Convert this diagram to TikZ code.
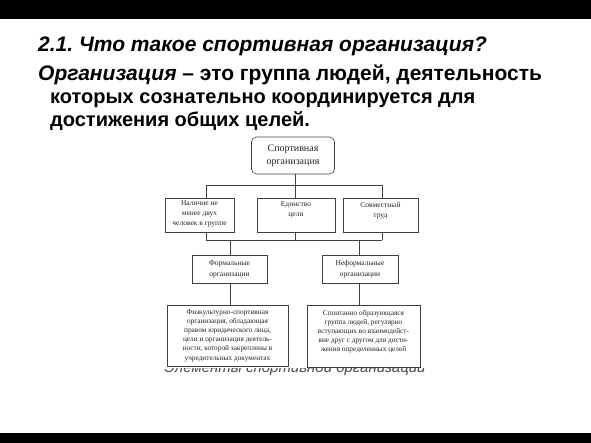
\documentclass[tikz,border=0pt]{standalone}
\usepackage{fontspec}
\setmainfont{Liberation Sans}
\newfontfamily\scanfont{Liberation Serif}
\frenchspacing
\begin{document}
\begin{tikzpicture}[x=1pt,y=-1pt,
  box/.style={draw=black!75, line width=0.6pt, fill=white, inner sep=0pt},
  conn/.style={draw=black!75, line width=0.6pt},
  btxt/.style={inner sep=0pt, align=center, text=black!85, font=\scanfont\fontsize{7.5}{10}\selectfont},
  head/.style={anchor=base west, inner sep=0pt, font=\fontsize{21}{24}\selectfont\bfseries}]
\useasboundingbox (0,0) rectangle (591,443);
\fill[black] (0,0) rectangle (591,19);
\fill[black] (0,433) rectangle (591,443);
% heading
\node[head] (h1) at (38,52) {\itshape 2.1. Что такое спортивная организация?};
\node[head] (h2) at (38,81) {{\itshape Организация} – это группа людей, деятельность};
\node[head, font=\fontsize{20}{24}\selectfont\bfseries] (h3) at (50,104) {которых сознательно координируется для};
\node[head, font=\fontsize{20}{24}\selectfont\bfseries] (h4) at (50,127) {достижения общих целей.};
% caption (partly hidden behind the scanned figure)
\node[anchor=base, inner sep=0pt, text=black!70, font=\fontsize{15}{18}\selectfont\itshape] (cap) at (295,372) {Элементы спортивной организаций};
\fill[white] (160,130) rectangle (442,368);
% boxes
\node[box, rounded corners=5pt, minimum width=83pt, minimum height=37pt] (top) at (293,155.5) {};
\node[btxt, font=\scanfont\fontsize{10}{13}\selectfont] (toptxt) at (top.center) {Спортивная\\организация};
\node[box, minimum width=69pt, minimum height=34pt] (L) at (199.5,215) {};
\node[box, minimum width=78pt, minimum height=34pt] (M) at (296,215) {};
\node[box, minimum width=75pt, minimum height=34pt] (R) at (380.5,215) {};
\node[btxt, anchor=north] (Lt) at ([yshift=-3pt]L.north) {Наличие не\\менее двух\\человек в группе};
\node[btxt, anchor=north] (Mt) at ([yshift=-4pt]M.north) {Единство\\цели};
\node[btxt, anchor=north] (Rt) at ([yshift=-4pt]R.north) {Совместный\\труд};
\node[box, minimum width=75pt, minimum height=28pt] (F) at (229.5,269) {};
\node[box, minimum width=76pt, minimum height=28pt] (N) at (360,269) {};
\node[btxt, font=\scanfont\fontsize{7.5}{11}\selectfont] (Ft) at (F.center) {Формальные\\организации};
\node[btxt, font=\scanfont\fontsize{7.5}{11}\selectfont] (Nt) at (N.center) {Неформальные\\организации};
\node[box, minimum width=121pt, minimum height=61pt] (FD) at (227.5,335.5) {};
\node[box, minimum width=113pt, minimum height=62pt] (ND) at (363.5,336) {};
\node[btxt, font=\scanfont\fontsize{7.3}{9.2}\selectfont] (FDt) at (FD.center) {Физкультурно-спортивная\\организация, обладающая\\правом юридического лица,\\цели и организация деятель-\\ности, которой закреплены в\\учредительных документах};
\node[btxt, font=\scanfont\fontsize{7.3}{9.2}\selectfont, anchor=north] (NDt) at ([yshift=-5pt]ND.north) {Спонтанно образующаяся\\группа людей, регулярно\\вступающих во взаимодейст-\\вие друг с другом для дости-\\жения определенных целей};
% bus coordinates
\coordinate (b1l) at (206,185);
\coordinate (b1m) at (295,185);
\coordinate (b1r) at (382,185);
\coordinate (b2l) at (206,240);
\coordinate (b2m) at (295,240);
\coordinate (b2r) at (382,240);
\coordinate (dF) at (230,240);
\coordinate (dN) at (359,240);
% connectors
\draw[conn] (top.south -| b1m) -- (b1m);
\draw[conn] (b1l) -- (b1r);
\draw[conn] (b1l) -- (b1l |- L.north);
\draw[conn] (b1m) -- (b1m |- M.north);
\draw[conn] (b1r) -- (b1r |- R.north);
\draw[conn] (b2l |- L.south) -- (b2l);
\draw[conn] (b2m |- M.south) -- (b2m);
\draw[conn] (b2r |- R.south) -- (b2r);
\draw[conn] (b2l) -- (b2r);
\draw[conn] (dF) -- (dF |- F.north);
\draw[conn] (dN) -- (dN |- N.north);
\draw[conn] (dF |- F.south) -- (dF |- FD.north);
\draw[conn] (dN |- N.south) -- (dN |- ND.north);
\end{tikzpicture}
\end{document}
